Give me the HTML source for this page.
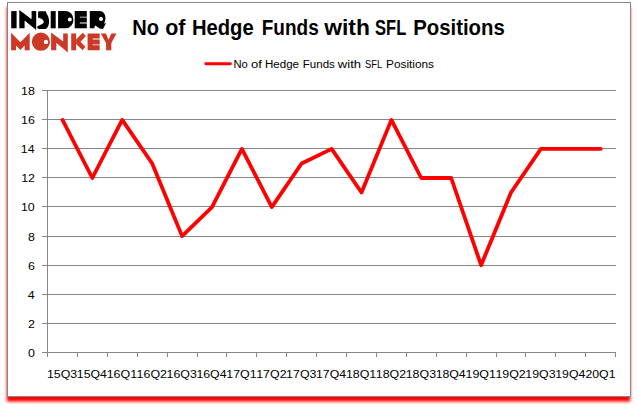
<!DOCTYPE html>
<html><head><meta charset="utf-8"><title>chart</title>
<style>
html,body{margin:0;padding:0;background:#fff;}
body{width:637px;height:408px;overflow:hidden;position:relative;font-family:"Liberation Sans",sans-serif;}
svg{position:absolute;left:0;top:0;}
text{font-family:"Liberation Sans",sans-serif;fill:#000;}
</style></head><body>
<svg width="637" height="408" viewBox="0 0 637 408">
<defs><filter id="sh" x="-5%" y="-5%" width="110%" height="110%"><feGaussianBlur stdDeviation="1.5 1.85"/></filter></defs>
<rect x="6.8" y="7" width="623.55" height="394.6" fill="#ff0000" filter="url(#sh)"/>
<rect x="7.5" y="2.5" width="623" height="394" fill="#ffffff" stroke="#868686" stroke-width="1"/>

<g stroke="#868686" stroke-width="1" fill="none" shape-rendering="crispEdges">
<line x1="42" y1="352.5" x2="615.6" y2="352.5"/>
<line x1="42" y1="323.5" x2="615.6" y2="323.5"/>
<line x1="42" y1="294.5" x2="615.6" y2="294.5"/>
<line x1="42" y1="265.5" x2="615.6" y2="265.5"/>
<line x1="42" y1="236.5" x2="615.6" y2="236.5"/>
<line x1="42" y1="206.5" x2="615.6" y2="206.5"/>
<line x1="42" y1="177.5" x2="615.6" y2="177.5"/>
<line x1="42" y1="148.5" x2="615.6" y2="148.5"/>
<line x1="42" y1="119.5" x2="615.6" y2="119.5"/>
<line x1="42" y1="90.5" x2="615.6" y2="90.5"/>
<line x1="47.5" y1="90" x2="47.5" y2="357"/>
<line x1="77.5" y1="352" x2="77.5" y2="357"/>
<line x1="107.5" y1="352" x2="107.5" y2="357"/>
<line x1="137.5" y1="352" x2="137.5" y2="357"/>
<line x1="167.5" y1="352" x2="167.5" y2="357"/>
<line x1="197.5" y1="352" x2="197.5" y2="357"/>
<line x1="226.5" y1="352" x2="226.5" y2="357"/>
<line x1="256.5" y1="352" x2="256.5" y2="357"/>
<line x1="286.5" y1="352" x2="286.5" y2="357"/>
<line x1="316.5" y1="352" x2="316.5" y2="357"/>
<line x1="346.5" y1="352" x2="346.5" y2="357"/>
<line x1="376.5" y1="352" x2="376.5" y2="357"/>
<line x1="406.5" y1="352" x2="406.5" y2="357"/>
<line x1="436.5" y1="352" x2="436.5" y2="357"/>
<line x1="466.5" y1="352" x2="466.5" y2="357"/>
<line x1="496.5" y1="352" x2="496.5" y2="357"/>
<line x1="525.5" y1="352" x2="525.5" y2="357"/>
<line x1="555.5" y1="352" x2="555.5" y2="357"/>
<line x1="585.5" y1="352" x2="585.5" y2="357"/>
<line x1="615.5" y1="352" x2="615.5" y2="357"/>
</g>
<text transform="translate(27.91,356.90) scale(1.0700,1)" font-size="11.6">0</text>
<text transform="translate(28.03,327.90) scale(1.0700,1)" font-size="11.6">2</text>
<text transform="translate(27.78,298.90) scale(1.0700,1)" font-size="11.6">4</text>
<text transform="translate(27.97,269.90) scale(1.0700,1)" font-size="11.6">6</text>
<text transform="translate(27.91,240.90) scale(1.0700,1)" font-size="11.6">8</text>
<text transform="translate(20.96,210.90) scale(1.0700,1)" font-size="11.6">10</text>
<text transform="translate(21.14,181.90) scale(1.0700,1)" font-size="11.6">12</text>
<text transform="translate(20.83,152.90) scale(1.0700,1)" font-size="11.6">14</text>
<text transform="translate(21.02,123.90) scale(1.0700,1)" font-size="11.6">16</text>
<text transform="translate(21.02,94.90) scale(1.0700,1)" font-size="11.6">18</text>
<text transform="translate(46.92,378.10) scale(1.0679,1)" font-size="11.6">15Q3</text>
<text transform="translate(76.83,378.10) scale(1.0610,1)" font-size="11.6">15Q4</text>
<text transform="translate(106.72,378.10) scale(1.0702,1)" font-size="11.6">16Q1</text>
<text transform="translate(136.62,378.10) scale(1.0702,1)" font-size="11.6">16Q2</text>
<text transform="translate(166.52,378.10) scale(1.0679,1)" font-size="11.6">16Q3</text>
<text transform="translate(196.43,378.10) scale(1.0610,1)" font-size="11.6">16Q4</text>
<text transform="translate(226.32,378.10) scale(1.0702,1)" font-size="11.6">17Q1</text>
<text transform="translate(256.22,378.10) scale(1.0702,1)" font-size="11.6">17Q2</text>
<text transform="translate(286.12,378.10) scale(1.0679,1)" font-size="11.6">17Q3</text>
<text transform="translate(316.03,378.10) scale(1.0610,1)" font-size="11.6">17Q4</text>
<text transform="translate(345.92,378.10) scale(1.0702,1)" font-size="11.6">18Q1</text>
<text transform="translate(375.82,378.10) scale(1.0702,1)" font-size="11.6">18Q2</text>
<text transform="translate(405.72,378.10) scale(1.0679,1)" font-size="11.6">18Q3</text>
<text transform="translate(435.63,378.10) scale(1.0610,1)" font-size="11.6">18Q4</text>
<text transform="translate(465.52,378.10) scale(1.0702,1)" font-size="11.6">19Q1</text>
<text transform="translate(495.42,378.10) scale(1.0702,1)" font-size="11.6">19Q2</text>
<text transform="translate(525.32,378.10) scale(1.0679,1)" font-size="11.6">19Q3</text>
<text transform="translate(555.23,378.10) scale(1.0610,1)" font-size="11.6">19Q4</text>
<text transform="translate(585.44,378.10) scale(1.0587,1)" font-size="11.6">20Q1</text>
<polyline points="62.5,119.9 92.3,178.0 122.2,119.9 152.2,163.5 182.1,236.1 212.0,207.1 241.9,148.9 271.8,207.1 301.6,163.5 331.6,148.9 361.5,192.5 391.4,119.9 421.2,178.0 451.2,178.0 481.1,265.2 511.0,192.5 540.9,148.9 570.8,148.9 600.7,148.9" fill="none" stroke="#ff0000" stroke-width="3.8" stroke-linejoin="round" stroke-linecap="round"/>
<line x1="205.8" y1="63.8" x2="230.4" y2="63.8" stroke="#ff0000" stroke-width="2.9" stroke-linecap="round"/>
<text transform="translate(233.40,67.60) scale(0.9961,1)" font-size="11.3">No</text>
<text transform="translate(251.08,67.60) scale(1.1577,1)" font-size="11.3">of</text>
<text transform="translate(264.97,67.60) scale(1.0244,1)" font-size="11.3">Hedge</text>
<text transform="translate(302.78,67.60) scale(1.0214,1)" font-size="11.3">Funds</text>
<text transform="translate(337.80,67.60) scale(1.1559,1)" font-size="11.3">with</text>
<text transform="translate(364.98,67.60) scale(0.8270,1)" font-size="11.3">SFL</text>
<text transform="translate(386.05,67.60) scale(1.0467,1)" font-size="11.3">Positions</text>
<text transform="translate(132.19,34.70) scale(0.9384,1)" font-size="21.4" font-weight="bold">No</text>
<text transform="translate(165.24,34.70) scale(1.0017,1)" font-size="21.4" font-weight="bold">of</text>
<text transform="translate(191.88,34.70) scale(0.9456,1)" font-size="21.4" font-weight="bold">Hedge</text>
<text transform="translate(261.77,34.70) scale(0.8878,1)" font-size="21.4" font-weight="bold">Funds</text>
<text transform="translate(324.20,34.70) scale(1.0671,1)" font-size="21.4" font-weight="bold">with</text>
<text transform="translate(375.10,34.70) scale(0.7712,1)" font-size="21.4" font-weight="bold">SFL</text>
<text transform="translate(413.28,34.70) scale(0.9505,1)" font-size="21.4" font-weight="bold">Positions</text>
<g fill="#000000">
<rect x="11.2" y="11.1" width="5.4" height="17.2"/>
<path d="M19.3,10.0 L31.6,19.3 L31.6,11.1 L36.2,11.1 L36.2,30.1 L24.6,20.4 L24.6,28.3 L19.3,28.3 Z"/>
<path d="M39.1,11.2 L45.6,11.2 C46.0,11.2 46.1,11.5 46.1,11.8 L46.4,13.6 C47.9,15.3 49.1,18.2 49.1,21.4 C49.1,24.6 48.0,27.4 45.8,29.0 L39.1,29.0 C38.0,28.8 37.2,28.2 37.1,27.0 L37.5,26.3 L42.2,23.9 C43.2,23.3 43.8,22.7 43.8,22.0 C43.6,20.6 42.5,19.5 41.2,18.8 L38.06,17.5 L38.06,12.9 C38.06,11.9 38.5,11.2 39.1,11.2 Z"/>
<rect x="50.7" y="11.1" width="5.0" height="17.2"/>
<path fill-rule="evenodd" d="M58.1,11.1 L66,11.1 A7.4,8.6 0 0 1 66,28.3 L58.1,28.3 Z M71.8,19.5 a2,2 0 1 0 -4,0 a2,2 0 1 0 4,0 Z"/>
<path fill-rule="evenodd" d="M74.7,11.1 H86.8 V28.3 H74.7 Z M79.8,16.7 H86.8 V17.6 H79.8 Z M79.8,22.5 H86.8 V23.4 H79.8 Z"/>
<path fill-rule="evenodd" d="M89.8,11.1 L99.7,11.1 C103,11.1 105.4,14 105.4,17.8 C105.4,20 105,22 104.0,23.8 L106.1,23.0 L103.0,29.1 L99.7,28.6 L95.3,25.6 C94.6,26.5 94.3,27.3 94.3,28.3 L89.8,28.3 Z M103.0,19.1 a2,2 0 1 0 -4,0 a2,2 0 1 0 4,0 Z"/>
</g>
<g fill="#cd3927">
<path d="M11.1,32.8 L20.4,42.3 L29.7,32.8 L29.7,50.3 L24.6,50.3 L24.6,45.5 L20.4,50 L16,45.5 L16,50.3 L11.1,50.3 Z"/>
<path fill-rule="evenodd" d="M50,41.7 a9.1,9.1 0 1 0 -18.2,0 a9.1,9.1 0 1 0 18.2,0 Z M48.2,41.9 a2.2,2.2 0 1 0 -4.4,0 a2.2,2.2 0 1 0 4.4,0 Z"/>
<path d="M51.1,32.4 L63.2,41.6 L63.2,33.4 L67.8,33.4 L67.8,52.4 L56.3,42.7 L56.3,50.3 L51.1,50.3 Z"/>
<rect x="71.2" y="33.5" width="4.9" height="16.8"/>
<path d="M76.1,39.5 L82.7,32.7 L85.9,36.1 L80.5,41.7 L85.4,46.8 L82.6,50.3 L76.1,44 Z"/>
<path fill-rule="evenodd" d="M87.6,33.4 H99.7 V50.3 H87.6 Z M92.7,38.5 H99.7 V39.4 H92.7 Z M92.7,44.4 H99.7 V45.3 H92.7 Z"/>
<path d="M100.8,33.5 L105.9,33.5 L108.6,39.8 L111.3,33.5 L116.4,33.5 L111.3,43.3 L111.3,50.3 L106.1,50.3 L106.1,43.3 Z"/>
</g>

</svg></body></html>
